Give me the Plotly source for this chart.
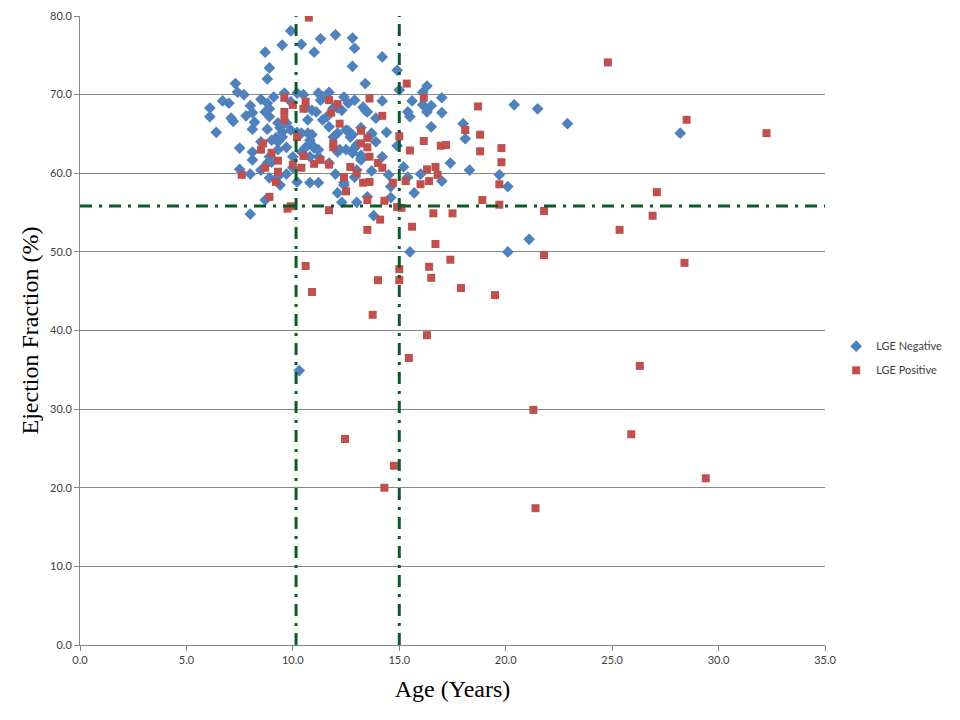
import plotly.graph_objects as go

# LGE Negative (blue diamonds): age (years), ejection fraction (%)
neg_age = [9.9, 9.5, 10.4, 11.3, 12.0, 11.0, 8.7, 8.9, 8.8, 12.8, 12.9, 14.2, 12.8, 14.9, 13.4, 15.0,
           16.1, 16.3, 17.0, 12.4, 12.9, 13.3, 13.4, 14.2, 15.6, 15.4, 15.5, 16.1, 16.5, 16.3, 17.0, 18.0,
           18.1, 16.5, 14.9, 17.4, 18.3, 17.0, 16.0, 15.7, 15.4, 14.6, 14.5, 14.6, 13.8, 13.5, 13.0, 12.3,
           12.1, 12.0, 12.4, 11.7, 12.1, 12.5, 13.0, 12.8, 13.2, 13.0, 14.2, 13.2, 12.6, 12.7, 13.7, 13.9,
           14.4, 13.9, 6.1, 6.1, 6.4, 6.7, 7.0, 7.1, 7.2, 7.3, 7.4, 7.7, 7.5, 7.5, 7.8, 8.0, 8.1, 8.2,
           8.1, 8.0, 8.0, 8.1, 8.1, 8.5, 8.8, 8.9, 8.7, 8.9, 8.8, 9.1, 9.6, 9.9, 10.2, 10.5, 11.2, 8.9,
           9.3, 9.7, 9.4, 8.7, 10.2, 10.8, 11.2, 10.3, 15.5, 19.7, 20.1, 21.1, 20.1, 20.4, 21.5, 22.9,
           28.2, 9.3, 9.4, 9.5, 9.5, 9.3, 9.2, 9.0, 9.7, 9.9, 9.7, 10.0, 9.3, 8.9, 8.5, 8.8, 9.0, 8.5,
           10.2, 10.4, 10.7, 10.9, 10.8, 10.9, 11.0, 11.2, 10.6, 10.4, 10.8, 11.2, 10.6, 10.9, 11.1, 10.7,
           11.4, 11.6, 11.7, 11.9, 12.1, 12.3, 12.6, 13.5, 11.9, 12.1, 12.5, 12.8, 12.2, 12.9, 13.2, 13.2,
           13.7, 13.7, 12.4, 12.9, 11.3, 11.4, 11.7, 15.2, 10.0]
neg_ef = [78.1, 76.3, 76.4, 77.1, 77.6, 75.4, 75.4, 73.4, 72.0, 77.2, 75.9, 74.8, 73.6, 73.1, 71.4, 70.6,
          70.3, 71.1, 69.6, 69.7, 69.3, 68.4, 68.0, 69.2, 69.2, 67.8, 67.2, 68.7, 68.6, 67.8, 67.7, 66.3,
          64.4, 65.9, 63.5, 61.3, 60.4, 59.0, 59.9, 57.5, 59.5, 58.3, 59.8, 56.9, 54.6, 57.0, 56.3, 56.3,
          57.5, 59.9, 58.8, 61.3, 62.7, 63.0, 63.6, 62.6, 61.9, 60.4, 62.1, 65.8, 65.4, 64.6, 65.0, 64.0,
          65.2, 67.0, 68.3, 67.2, 65.2, 69.2, 68.9, 67.0, 66.6, 71.4, 70.3, 70.0, 63.2, 60.5, 67.3, 68.6,
          67.7, 66.5, 65.6, 59.9, 54.8, 62.7, 61.7, 69.4, 68.9, 68.2, 67.8, 67.2, 65.6, 69.7, 70.2, 69.1,
          70.2, 70.0, 70.2, 59.4, 59.6, 59.9, 58.5, 56.6, 58.9, 58.8, 58.8, 34.9, 50.0, 59.8, 58.3, 51.6,
          50.0, 68.7, 68.2, 66.3, 65.1, 66.4, 65.8, 65.2, 64.6, 64.0, 64.5, 64.2, 66.4, 65.5, 63.3, 62.1,
          63.0, 62.1, 64.0, 61.3, 61.4, 60.4, 65.2, 65.1, 65.1, 64.9, 64.2, 63.6, 63.2, 63.0, 63.3, 62.7,
          62.1, 62.1, 68.4, 68.0, 67.8, 66.8, 66.8, 67.2, 65.9, 68.3, 68.3, 68.0, 68.9, 67.8, 64.6, 65.1,
          65.5, 64.9, 63.0, 63.2, 62.3, 61.7, 65.1, 60.3, 58.5, 59.5, 69.3, 69.7, 70.3, 60.8, 60.7]

# LGE Positive (red squares)
pos_age = [10.75, 24.8, 28.5, 32.25, 27.1, 26.9, 25.35, 28.4, 26.3, 25.9, 29.4, 21.3, 21.4, 21.8, 21.8,
           18.7, 18.8, 18.8, 19.8, 19.8, 19.7, 18.9, 19.7, 19.5, 13.5, 15.6, 16.7, 10.6, 15.0, 16.4, 17.4,
           14.0, 15.0, 16.5, 17.9, 10.9, 13.75, 16.3, 15.45, 12.45, 14.75, 14.3, 15.35, 16.15, 13.6, 14.2,
           12.2, 18.1, 15.0, 16.15, 15.5, 16.95, 17.2, 13.2, 13.5, 13.2, 13.5, 13.6, 11.9, 11.9, 12.7,
           13.0, 12.4, 12.5, 13.3, 13.6, 14.0, 14.2, 13.5, 14.3, 14.1, 14.7, 15.3, 16.0, 16.4, 16.3, 16.7,
           16.8, 14.9, 15.1, 16.6, 17.5, 11.7, 9.6, 10.2, 8.6, 8.5, 9.0, 9.3, 10.5, 10.0, 10.4, 8.7, 9.3,
           7.6, 9.2, 8.9, 9.9, 9.75, 11.0, 11.3, 11.7, 9.6, 10.0, 10.6, 9.6, 10.5, 11.7, 12.1, 11.8]
pos_ef = [79.8, 74.1, 66.8, 65.1, 57.6, 54.6, 52.8, 48.6, 35.5, 26.8, 21.2, 29.9, 17.4, 49.6, 55.2,
          68.5, 64.9, 62.8, 63.2, 61.4, 58.6, 56.6, 56.0, 44.5, 52.8, 53.2, 51.0, 48.2, 47.8, 48.1, 49.0,
          46.4, 46.4, 46.7, 45.4, 44.9, 42.0, 39.4, 36.5, 26.2, 22.8, 20.0, 71.4, 69.6, 69.5, 67.3,
          66.3, 65.5, 64.7, 64.1, 62.9, 63.5, 63.6, 65.4, 64.5, 63.8, 63.3, 62.1, 63.8, 63.3, 60.8,
          60.0, 59.5, 57.7, 58.8, 58.9, 61.3, 60.7, 56.6, 56.5, 54.1, 58.8, 59.0, 58.6, 59.0, 60.5, 60.8,
          59.8, 55.7, 55.6, 54.9, 54.9, 55.3, 66.8, 64.6, 63.8, 63.0, 62.6, 61.6, 62.2, 61.1, 60.7, 60.7, 60.2,
          59.8, 58.9, 57.0, 55.8, 55.5, 61.2, 61.7, 61.1, 69.6, 68.7, 69.1, 67.8, 68.2, 69.3, 68.8, 67.7]

# Reference (cut-off) lines
age_cut_a = 10.15
age_cut_b = 15.0
ef_cut = 55.85

x_ticks = [0, 5, 10, 15, 20, 25, 30, 35]
y_ticks = [0, 10, 20, 30, 40, 50, 60, 70, 80]

fig = go.Figure()
fig.add_trace(go.Scatter(
    x=neg_age, y=neg_ef, mode="markers", name="LGE Negative", legendgroup="neg",
    marker=dict(symbol="diamond", size=9, color="#4F81BD", line=dict(width=0)),
))
fig.add_trace(go.Scatter(
    x=pos_age, y=pos_ef, mode="markers", name="LGE Positive", legendgroup="pos",
    marker=dict(symbol="square", size=8, color="#C0504D", line=dict(width=0)),
))

line_style = dict(color="#0B5A2A", width=3, dash="12px,7px,3px,7px")
for xv in (age_cut_a, age_cut_b):
    fig.add_shape(type="line", xref="x", yref="y", x0=xv, x1=xv, y0=0, y1=80,
                  line=line_style, layer="above")
fig.add_shape(type="line", xref="x", yref="y", x0=0, x1=35, y0=ef_cut, y1=ef_cut,
              line=line_style, layer="above")

tick_font = dict(family="Lato, Open Sans, sans-serif", size=11, color="#404040")
title_font = dict(family="Liberation Serif, Times New Roman, serif", size=24, color="#000000")

# The page body adds an 8px offset, so the figure is sized to fit the 960x720 window.
fig.update_layout(
    width=952, height=712, autosize=False,
    paper_bgcolor="white", plot_bgcolor="white",
    margin=dict(l=72, r=135, t=8, b=75, autoexpand=False),
    showlegend=True,
    legend=dict(x=1.015, y=0.456, xanchor="left", yanchor="middle",
                font=dict(family="Lato, Open Sans, sans-serif", size=11, color="#404040"),
                bgcolor="rgba(0,0,0,0)", itemwidth=30, tracegroupgap=5),
    xaxis=dict(range=[0, 35], tickvals=x_ticks, tickformat=".1f", showgrid=False,
               zeroline=False, showline=True, linecolor="#868686", linewidth=1,
               ticks="outside", ticklen=5, tickcolor="#868686", tickfont=tick_font,
               automargin=False,
               title=dict(text="Age (Years)", font=title_font, standoff=14)),
    yaxis=dict(range=[0, 80], tickvals=y_ticks, tickformat=".1f", showgrid=True,
               gridcolor="#868686", gridwidth=1, zeroline=False, showline=True,
               linecolor="#868686", linewidth=1, ticks="outside", ticklen=5,
               tickcolor="#868686", tickfont=tick_font, automargin=False,
               title=dict(text="Ejection Fraction (%)", font=title_font, standoff=4)),
)

fig.write_html("out.html")
